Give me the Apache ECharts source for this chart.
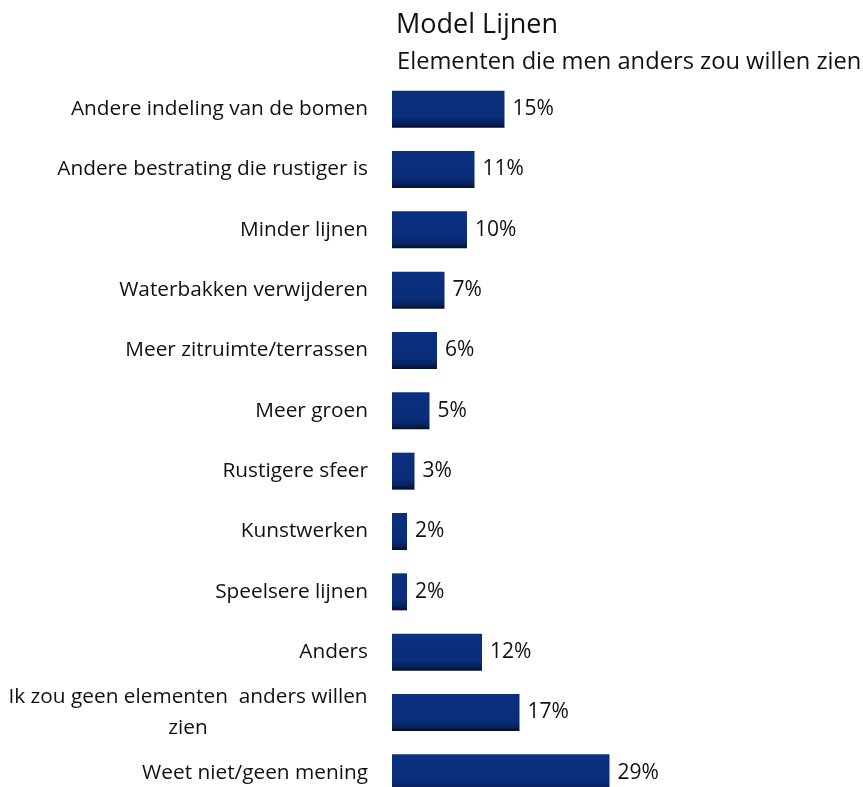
<!DOCTYPE html>
<html>
<head>
<meta charset="utf-8">
<script src="https://cdn.jsdelivr.net/npm/echarts@6/dist/echarts.min.js"></script>
<style>
html,body{margin:0;padding:0;background:#fff;overflow:hidden;}
#chart{width:863px;height:803px;}
</style>
</head>
<body>
<div id="chart"></div>
<script>
var titleText = "Model Lijnen";
var subtitleText = "Elementen die men anders zou willen zien";
var categories = [
  "Andere indeling van de bomen",
  "Andere bestrating die rustiger is",
  "Minder lijnen",
  "Waterbakken verwijderen",
  "Meer zitruimte/terrassen",
  "Meer groen",
  "Rustigere sfeer",
  "Kunstwerken",
  "Speelsere lijnen",
  "Anders",
  "Ik zou geen elementen  anders willen\nzien",
  "Weet niet/geen mening"
];
var values = [15, 11, 10, 7, 6, 5, 3, 2, 2, 12, 17, 29];

var FONT = "Open Sans";
var LABEL_SIZE = 20.8;
function measure(text, size) {
  var c = document.createElement('canvas').getContext('2d');
  c.font = size + 'px "' + FONT + '"';
  return Math.ceil(c.measureText(text).width);
}
var chart = echarts.init(document.getElementById('chart'));
chart.setOption({
  backgroundColor: '#ffffff',
  animation: false,
  title: [
    {text: titleText, left: 391, top: 7, textStyle: {fontFamily: FONT, fontSize: 27, fontWeight: 'normal', color: '#111'}},
    {text: subtitleText, left: 392, top: 45, textStyle: {fontFamily: FONT, fontSize: 23.7, fontWeight: 'normal', color: '#111'}}
  ],
  grid: {left: 392, width: 300, top: 79, height: 724, containLabel: false},
  xAxis: {type: 'value', min: 0, max: 40, show: false},
  yAxis: {
    type: 'category', data: categories, inverse: true,
    axisLine: {show: false}, axisTick: {show: false}, splitLine: {show: false},
    axisLabel: {
      margin: 24, fontFamily: FONT, fontSize: LABEL_SIZE, color: '#111', align: 'right', lineHeight: 31,
      formatter: function (v) {
        if (v.indexOf('\n') >= 0) {
          var parts = v.split('\n');
          return parts.map(function (p) { return '{c|' + p + '}'; }).join('\n');
        }
        return v;
      },
      rich: {c: {width: measure("Ik zou geen elementen  anders willen", LABEL_SIZE), align: 'center', fontFamily: FONT, fontSize: LABEL_SIZE, color: '#111', lineHeight: 31}}
    }
  },
  series: [{
    type: 'bar', data: values, barWidth: 37,
    itemStyle: {
      color: new echarts.graphic.LinearGradient(0, 0, 0, 1, [
        {offset: 0, color: '#0b3080'},
        {offset: 0.72, color: '#0a2d79'},
        {offset: 0.88, color: '#08235e'},
        {offset: 1, color: '#03102c'}
      ])
    },
    label: {show: true, position: 'right', distance: 8, formatter: '{c}%', fontFamily: FONT, fontSize: 21, color: '#111'}
  }]
});
</script>
</body>
</html>
